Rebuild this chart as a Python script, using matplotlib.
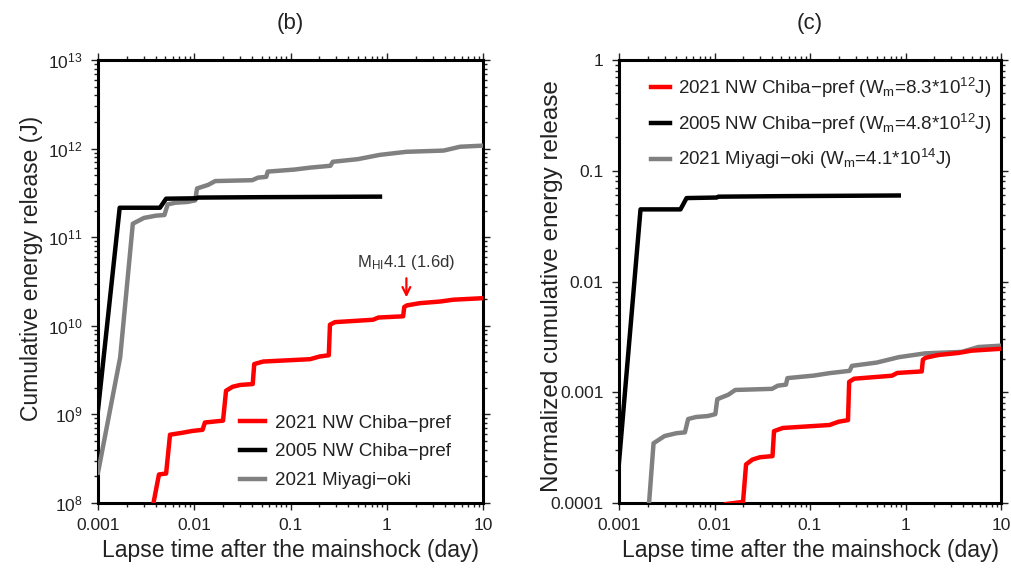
import matplotlib
matplotlib.use("Agg")
import matplotlib.pyplot as plt
import numpy as np
from matplotlib.ticker import LogLocator, FixedLocator, FixedFormatter, NullFormatter

plt.rcParams['font.family'] = ['Liberation Sans', 'DejaVu Sans']
plt.rcParams['mathtext.fontset'] = 'custom'
plt.rcParams['mathtext.rm'] = 'Liberation Sans'
plt.rcParams['mathtext.it'] = 'Liberation Sans:italic'
plt.rcParams['mathtext.bf'] = 'Liberation Sans:bold'

# ---- data: lapse time (day) and cumulative energy release (J) ----
t_chiba21 = [0.0037, 0.0043, 0.0051, 0.0056, 0.0075, 0.0095, 0.0122, 0.0129, 0.0199,
             0.0214, 0.025, 0.030, 0.0405, 0.042, 0.052, 0.16, 0.20, 0.25, 0.257,
             0.29, 0.72, 0.82, 1.48, 1.52, 1.62, 2.2, 3.6, 4.9, 10.0]
e_chiba21 = [9.0e7, 2.1e8, 2.15e8, 5.9e8, 6.2e8, 6.5e8, 6.7e8, 8.1e8, 8.5e8,
             1.85e9, 2.05e9, 2.15e9, 2.2e9, 3.7e9, 3.95e9, 4.2e9, 4.5e9, 4.65e9, 1.03e10,
             1.1e10, 1.17e10, 1.24e10, 1.28e10, 1.63e10, 1.7e10, 1.8e10, 1.88e10, 1.97e10, 2.05e10]

t_chiba05 = [0.001, 0.00168, 0.0044, 0.0051, 0.0105, 0.011, 0.05, 0.85]
e_chiba05 = [1.12e9, 2.15e11, 2.15e11, 2.72e11, 2.75e11, 2.8e11, 2.83e11, 2.87e11]

t_miyagi = [0.001, 0.0017, 0.0023, 0.0030, 0.0040, 0.0049, 0.0053, 0.0064, 0.0085,
            0.0102, 0.0107, 0.0140, 0.0165, 0.040, 0.046, 0.056, 0.058, 0.11, 0.16,
            0.26, 0.275, 0.50, 0.85, 1.6, 3.9, 5.8, 10.0]
e_miyagi = [2.2e8, 4.4e9, 1.42e11, 1.65e11, 1.75e11, 1.78e11, 2.35e11, 2.45e11, 2.5e11,
            2.6e11, 3.55e11, 3.9e11, 4.3e11, 4.4e11, 4.7e11, 4.8e11, 5.5e11, 5.8e11, 6.1e11,
            6.4e11, 7.1e11, 7.6e11, 8.5e11, 9.2e11, 9.5e11, 1.05e12, 1.08e12]

# mainshock energies W_m (J)
wm_chiba21 = 8.3e12
wm_chiba05 = 4.8e12
wm_miyagi = 4.1e14

labels_b = ['2021 NW Chiba\u2212pref', '2005 NW Chiba\u2212pref', '2021 Miyagi\u2212oki']
labels_c = [r'2021 NW Chiba$\mathrm{-}$pref (W$_\mathrm{m}$=8.3*10$^{12}$J)',
            r'2005 NW Chiba$\mathrm{-}$pref (W$_\mathrm{m}$=4.8*10$^{12}$J)',
            r'2021 Miyagi$\mathrm{-}$oki (W$_\mathrm{m}$=4.1*10$^{14}$J)']
colors = ['#ff0000', '#000000', '#808080']

xticks = [0.001, 0.01, 0.1, 1, 10]
xticklabels = ['0.001', '0.01', '0.1', '1', '10']
yticks_c = [0.0001, 0.001, 0.01, 0.1, 1]
yticklabels_c = ['0.0001', '0.001', '0.01', '0.1', '1']

series = [(t_chiba21, e_chiba21, wm_chiba21),
          (t_chiba05, e_chiba05, wm_chiba05),
          (t_miyagi, e_miyagi, wm_miyagi)]

W, H = 1011, 571
fig = plt.figure(figsize=(W / 100, H / 100), dpi=100)
axb = fig.add_axes([98 / W, 1 - 503 / H, (483 - 98) / W, (503 - 60) / H])
axc = fig.add_axes([619 / W, 1 - 503 / H, (1001 - 619) / W, (503 - 60) / H])

lw = 3.2
for i in [2, 1, 0]:
    t, e, wm = series[i]
    axb.plot(t, e, color=colors[i], lw=lw, label=labels_b[i], zorder=3)
    axc.plot(t, np.array(e) / wm, color=colors[i], lw=lw, label=labels_c[i], zorder=3)

txtc = '#222222'
for ax in (axb, axc):
    ax.set_xscale('log')
    ax.set_yscale('log')
    ax.set_xlim(0.001, 10)
    ax.xaxis.set_major_locator(FixedLocator(xticks))
    ax.xaxis.set_major_formatter(FixedFormatter(xticklabels))
    ax.xaxis.set_minor_locator(LogLocator(base=10, subs=np.arange(2, 10)))
    ax.xaxis.set_minor_formatter(NullFormatter())
    ax.tick_params(which='both', direction='out', top=True, right=True, width=1.0, color=txtc,
                   labelsize=12.5, labelcolor=txtc)
    ax.tick_params(which='major', length=5, pad=6)
    ax.tick_params(which='minor', length=3)
    for s in ax.spines.values():
        s.set_linewidth(2.2)
    ax.set_xlabel('Lapse time after the mainshock (day)', fontsize=16.5, color=txtc, labelpad=4)

axb.set_ylim(1e8, 1e13)
axb.yaxis.set_major_locator(LogLocator(base=10, numticks=10))
axb.yaxis.set_minor_locator(LogLocator(base=10, subs=np.arange(2, 10), numticks=20))
axb.yaxis.set_minor_formatter(NullFormatter())
axb.set_ylabel('Cumulative energy release (J)', fontsize=16.5, color=txtc)
axb.yaxis.set_label_coords(-0.143, 0.53)
axb.set_title('(b)', fontsize=16, color=txtc, pad=22)

axc.set_ylim(1e-4, 1)
axc.yaxis.set_major_locator(FixedLocator(yticks_c))
axc.yaxis.set_major_formatter(FixedFormatter(yticklabels_c))
axc.yaxis.set_minor_locator(LogLocator(base=10, subs=np.arange(2, 10), numticks=20))
axc.yaxis.set_minor_formatter(NullFormatter())
axc.set_ylabel('Normalized cumulative energy release', fontsize=17.5, color=txtc)
axc.yaxis.set_label_coords(-0.147, 0.49)
axc.set_title('(c)', fontsize=16, color=txtc, pad=22)

# legends in original order
hb, lb = axb.get_legend_handles_labels()
axb.legend(hb[::-1], lb[::-1], loc='lower left', frameon=False, fontsize=13.5, handlelength=1.3,
           handletextpad=0.55, labelspacing=0.62, bbox_to_anchor=(0.345, 0.01), borderaxespad=0.0,
           borderpad=0.5, labelcolor=txtc)
hc, lc = axc.get_legend_handles_labels()
axc.legend(hc[::-1], lc[::-1], loc='upper left', frameon=False, fontsize=13.5, handlelength=1.0,
           handletextpad=0.4, labelspacing=0.62, bbox_to_anchor=(0.055, 0.99), borderaxespad=0.0,
           borderpad=0.6, labelcolor=txtc)

# annotation of the M_HI 4.1 event
axb.annotate('', xy=(1.6, 1.95e10), xytext=(1.6, 3.7e10),
             arrowprops=dict(arrowstyle='->', color='#ff0000', lw=1.6, mutation_scale=14))
axb.text(1.6, 4.1e10, r'M$_\mathrm{HI}$4.1 (1.6d)', fontsize=12, color='#333333',
         ha='center', va='bottom')

fig.savefig('out.png', dpi=100)
